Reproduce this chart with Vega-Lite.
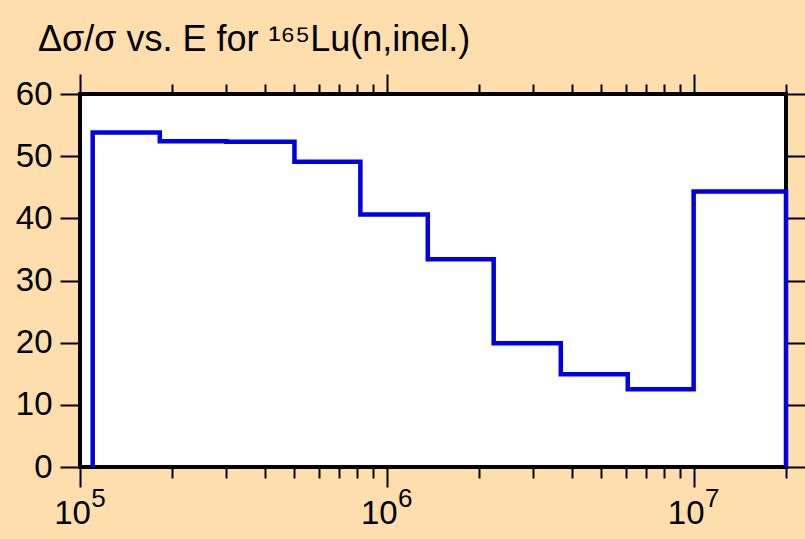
{
  "$schema": "https://vega.github.io/schema/vega-lite/v6.json",
  "width": 706,
  "height": 373,
  "autosize": {"type": "none"},
  "padding": {"left": 80, "top": 94, "right": 19, "bottom": 72},
  "background": "#FFDEAD",
  "config": {
    "view": {"fill": "white", "stroke": "black", "strokeWidth": 4},
    "font": "Liberation Sans",
    "axis": {"domain": false, "grid": false, "tickColor": "black", "tickWidth": 2, "labelColor": "black", "labelFont": "Liberation Sans", "labelFontSize": 33, "title": null}
  },
  "title": {"text": "Δσ/σ vs. E for ¹⁶⁵Lu(n,inel.)", "anchor": "start", "frame": "group", "dx": -42, "fontSize": 36, "fontWeight": "normal", "font": "Liberation Sans", "color": "black", "offset": 14},
  "data": {"values": [
    {"i": 0, "E": 110000, "v": 0},
    {"i": 1, "E": 110000, "v": 53.8},
    {"i": 2, "E": 182000, "v": 52.4},
    {"i": 3, "E": 300000, "v": 52.3},
    {"i": 4, "E": 500000, "v": 49.1},
    {"i": 5, "E": 820000, "v": 40.6},
    {"i": 6, "E": 1360000, "v": 33.4},
    {"i": 7, "E": 2230000, "v": 19.9},
    {"i": 8, "E": 3690000, "v": 14.9},
    {"i": 9, "E": 6100000, "v": 12.5},
    {"i": 10, "E": 10000000, "v": 44.3},
    {"i": 11, "E": 20000000, "v": 44.3},
    {"i": 12, "E": 20000000, "v": 0}
  ]},
  "layer": [
    {
      "mark": {"type": "line", "interpolate": "step-after", "color": "#0000e0", "strokeWidth": 4.5, "strokeJoin": "miter", "clip": false},
      "encoding": {
        "x": {"field": "E", "type": "quantitative", "scale": {"type": "log", "domain": [100000, 20000000], "nice": false},
          "axis": {"orient": "bottom", "values": [100000,200000,300000,400000,500000,600000,700000,800000,900000,1000000,2000000,3000000,4000000,5000000,6000000,7000000,8000000,9000000,10000000,20000000],
            "tickSize": {"condition": {"test": "datum.value == 100000 || datum.value == 1000000 || datum.value == 10000000", "value": 20}, "value": 11},
            "labelExpr": "datum.value == 100000 || datum.value == 1000000 || datum.value == 10000000 ? '10' : ''",
            "labelPadding": 10, "labelOffset": -8, "labelFlush": false, "labelOverlap": false}},
        "y": {"field": "v", "type": "quantitative", "scale": {"domain": [0, 60], "nice": false},
          "axis": {"orient": "left", "values": [0,10,20,30,40,50,60], "tickSize": 20, "labelPadding": 8}},
        "order": {"field": "i", "type": "quantitative"}
      }
    },
    {
      "mark": {"type": "line", "opacity": 0},
      "encoding": {
        "x": {"field": "E", "type": "quantitative", "scale": {"type": "log", "domain": [100000, 20000000], "nice": false},
          "axis": {"orient": "top", "values": [100000,200000,300000,400000,500000,600000,700000,800000,900000,1000000,2000000,3000000,4000000,5000000,6000000,7000000,8000000,9000000,10000000,20000000],
            "tickSize": {"condition": {"test": "datum.value == 100000 || datum.value == 1000000 || datum.value == 10000000", "value": 20}, "value": 10},
            "labels": false}},
        "y": {"field": "v", "type": "quantitative", "scale": {"domain": [0, 60], "nice": false},
          "axis": {"orient": "right", "values": [0,10,20,30,40,50,60], "tickSize": 20, "labels": false}},
        "order": {"field": "i", "type": "quantitative"}
      }
    },
    {
      "mark": {"type": "line", "opacity": 0},
      "encoding": {
        "x": {"field": "E", "type": "quantitative", "scale": {"type": "log", "domain": [100000, 20000000], "nice": false},
          "axis": {"orient": "bottom", "values": [100000, 1000000, 10000000], "ticks": false,
            "labelExpr": "datum.value == 100000 ? '5' : datum.value == 1000000 ? '6' : '7'",
            "labelFontSize": 26, "labelPadding": 18, "labelOffset": 18, "labelFlush": false, "labelOverlap": false}},
        "y": {"field": "v", "type": "quantitative", "scale": {"domain": [0, 60], "nice": false}, "axis": null},
        "order": {"field": "i", "type": "quantitative"}
      }
    }
  ],
  "resolve": {"axis": {"x": "independent", "y": "independent"}}
}
